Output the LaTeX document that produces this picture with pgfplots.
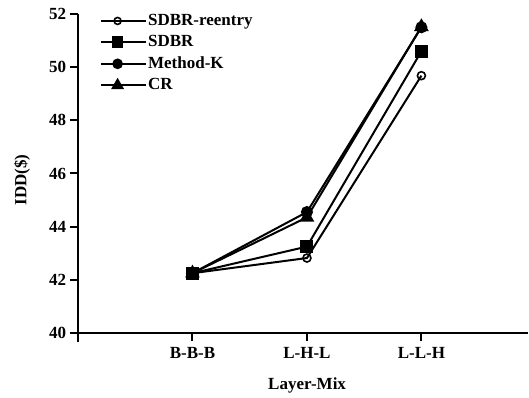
\documentclass[border=0pt]{standalone}
\usepackage{pgfplots}
\pgfplotsset{compat=1.18}
\usepackage{fontspec}
\setmainfont{Liberation Serif}
\begin{document}
\fontsize{17}{20}\selectfont\bfseries
\begin{tikzpicture}
\begin{axis}[
  scale only axis,
  width=451pt, height=319pt,
  xmin=-1, xmax=2.94, ymin=40, ymax=52,
  axis x line*=bottom, axis y line*=left,
  xtick pos=bottom, ytick pos=left,
  axis line style={-, line width=2.4pt},
  x axis line style={draw=none},
  xtick={0,1,2}, xticklabels={B-B-B,L-H-L,L-L-H},
  ytick={40,42,...,52},
  minor tick num=0,
  tick align=outside, major tick length=8pt,
  tick style={line width=2pt, black},
  /pgf/number format/assume math mode=true,
  ticklabel style={font=\fontsize{17}{20}\selectfont\bfseries},
  yticklabel style={xshift=2pt},
  xticklabel style={yshift=-1pt},
  xlabel={Layer-Mix}, ylabel={IDD(\$)},
  label style={font=\fontsize{17}{20}\selectfont\bfseries},
  every axis x label/.style={at={(axis description cs:0.508,-0.163)}, anchor=center},
  every axis y label/.style={at={(axis description cs:-0.124,0.48)}, rotate=90, anchor=center},
  legend style={draw=none, fill=none, at={(0.049,1.003)}, anchor=north west,
    font=\fontsize{17}{20}\selectfont\bfseries, row sep=5.5pt,
    inner sep=0pt, outer sep=0pt, nodes={inner sep=1pt}},
  legend cell align=left,
  legend image code/.code={
    \draw[line width=2pt] (0pt,0pt) -- (33pt,0pt);
    \draw[#1, line width=1.6pt] plot coordinates {(16.5pt,0pt)};
    \path (0pt,0pt) -- (45pt,0pt);},
  every axis plot/.append style={line width=2pt, black},
  clip=false,
]
\addlegendimage{mark=o, mark size=3.5pt, mark options={fill=white, line width=1.6pt}}
\addlegendentry{SDBR-reentry}
\addlegendimage{mark=square*, mark size=5pt}
\addlegendentry{SDBR}
\addlegendimage{mark=*, mark size=4.5pt}
\addlegendentry{Method-K}
\addlegendimage{mark=triangle*, mark size=6pt}
\addlegendentry{CR}
\draw[line width=2.4pt] (rel axis cs:0,0) -- ([xshift=-1pt]rel axis cs:1,0);
\draw[line width=2.4pt] (rel axis cs:0,0.01) -- ([yshift=-9pt]rel axis cs:0,0);
\addplot[forget plot, mark=*, mark size=5pt] coordinates {(0,42.25) (1,44.55) (2,51.5)};
\addplot[forget plot, mark=triangle*, mark size=6.5pt] coordinates {(0,42.25) (1,44.35) (2,51.52)};
\addplot[forget plot, mark=o, mark size=4pt, mark options={fill=white, line width=1.6pt}] coordinates {(0,42.25) (1,42.82) (2,49.68)};
\addplot[forget plot, mark=square*, mark size=5.5pt] coordinates {(0,42.25) (1,43.25) (2,50.6)};
\end{axis}
\pgfresetboundingbox
\path ([shift={(-78pt,-65pt)}]current axis.south west) rectangle ([shift={(0pt,14pt)}]current axis.north east);
\end{tikzpicture}
\end{document}
